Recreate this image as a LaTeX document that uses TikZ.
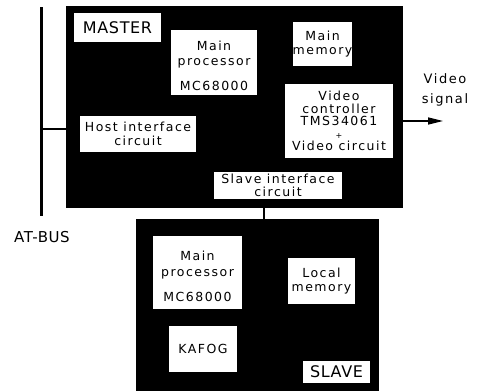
\documentclass[tikz,border=0pt]{standalone}
\usepackage{fontspec}
\newfontfamily\diagfont[LetterSpace=12]{DejaVu Sans}
\newfontfamily\tagfont[LetterSpace=4]{DejaVu Sans}
\usetikzlibrary{arrows.meta,positioning,calc}

\begin{document}
\begin{tikzpicture}[
  x=1pt, y=-1pt,
  font=\diagfont\fontsize{12.5}{14}\selectfont,
  unit/.style={fill=black, inner sep=0pt},
  box/.style={fill=white, inner sep=0pt, align=center},
  tag/.style={box, font=\tagfont\fontsize{16}{18}\selectfont},
  cpu/.style={box, font=\diagfont\fontsize{12.5}{15.5}\selectfont},
  wire/.style={line width=1.4pt},
  arr/.style={wire, -{Triangle[length=15pt, width=7pt]}}
]
\useasboundingbox (0,0) rectangle (480,391);

% ---------- Bus ----------
\coordinate (bustop) at (41.5,7);
\coordinate (busbot) at (41.5,216);
\draw[line width=3.5pt] (bustop) -- (busbot);
\node[font=\tagfont\fontsize{15}{17}\selectfont] (bus) at (42,237) {AT-BUS};

% ---------- Master ----------
\node[unit, minimum width=337pt, minimum height=202pt] (master) at (234.5,107) {};
\node[tag, minimum width=87pt, minimum height=29pt] (mtag) at (117.5,27.5) {MASTER};
\node[cpu, minimum width=86pt, minimum height=65pt] (mcpu) at (214,62.5)
  {\rule{0pt}{16pt}Main\\processor\\[9pt]MC68000};
\node[box, minimum width=59pt, minimum height=44pt] (mmem) at (322.5,44) {Main\\memory};
\node[box, minimum width=108pt, minimum height=74pt, font=\diagfont\fontsize{12.5}{12.5}\selectfont]
  (vctrl) at (339,121) {Video\\controller\\TMS34061\\{\fontsize{8}{8}\selectfont +}\\Video circuit};
\node[box, minimum width=116pt, minimum height=36pt] (hostif) at (138,134) {Host interface\\circuit};
\node[box, minimum width=128pt, minimum height=27pt, font=\diagfont\fontsize{12.5}{13}\selectfont]
  (sif) at (278,185.5) {Slave interface\\circuit};

\coordinate (tap) at (41.5,129);
\draw[wire] (tap) -- (tap -| master.west);

% ---------- Video out ----------
\coordinate (vout) at (443,121);
\draw[arr] (vctrl.east -| master.east) -- (vout);
\node[font=\diagfont\fontsize{13}{20}\selectfont, align=center] (vsig) at (445,90) {Video\\signal};

% ---------- Slave ----------
\node[unit, minimum width=243pt, minimum height=172pt] (slave) at (257.5,305) {};
\node[cpu, minimum width=89pt, minimum height=73pt] (scpu) at (197.5,272.5)
  {\rule{0pt}{17pt}Main\\processor\\[9.5pt]MC68000};
\node[box, minimum width=67pt, minimum height=46pt] (smem) at (321.5,281) {Local\\memory};
\node[box, minimum width=68pt, minimum height=46pt] (kafog) at (203,349) {KAFOG};
\node[tag, minimum width=67pt, minimum height=22pt] (stag) at (336.5,372) {SLAVE};

\coordinate (link) at (264,200);
\draw[wire] (sif.south -| link) -- (slave.north -| link);

\end{tikzpicture}
\end{document}
